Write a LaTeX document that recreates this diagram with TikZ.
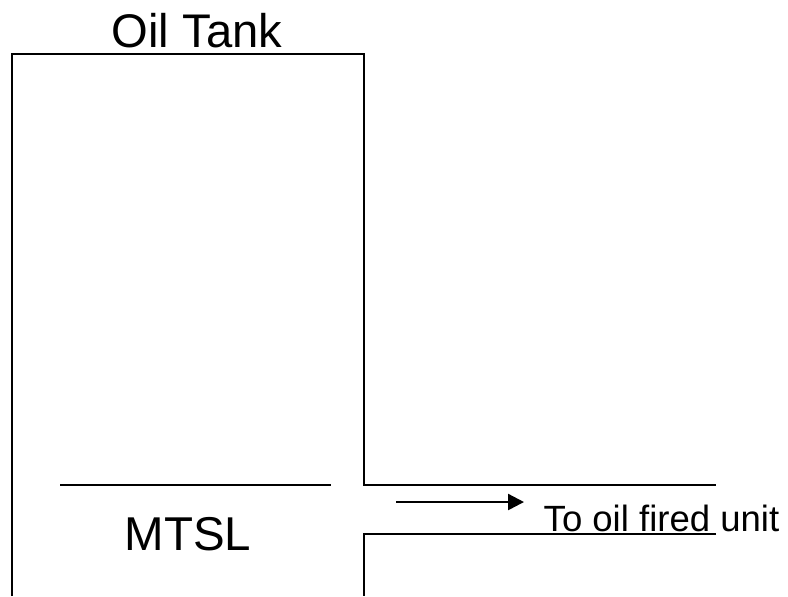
\documentclass[tikz,border=0pt]{standalone}
\usepackage{fontspec}
\setmainfont{Liberation Sans}
\usetikzlibrary{arrows.meta}
\tikzset{wall/.style={draw=black,line width=1.8pt},
lbl/.style={inner sep=0pt,text=black}}
\begin{document}
\begin{tikzpicture}[x=1pt,y=-1pt,scale=0.75]
\useasboundingbox (0,0) rectangle (788,596);
\coordinate (a) at (11.7,596);
\coordinate (b) at (11.7,54);
\coordinate (c) at (363.7,54);
\coordinate (d) at (363.7,485);
\coordinate (e) at (716,485);
\coordinate (f) at (716,534);
\coordinate (g) at (363.7,534);
\coordinate (h) at (363.7,596);
\coordinate (m1) at (60,485);
\coordinate (m2) at (331,485);
\coordinate (ar1) at (396,502);
\coordinate (ar2) at (524,502);
\draw[wall] (a) -- (b) -- (c) -- (d) -- (e);
\draw[wall] (f) -- (g) -- (h);
\draw[wall] (m1) -- (m2);
\draw[wall,-{Triangle[length=12pt,width=12pt]}] (ar1) -- (ar2);
\node[lbl,font=\fontsize{35.4}{36}\selectfont] (t) at (197,31) {Oil Tank};
\node[lbl,font=\fontsize{35.6}{36}\selectfont] (m) at (188,534) {MTSL};
\node[lbl,font=\fontsize{27.4}{28}\selectfont] (u) at (661.5,518.5) {To oil fired unit};
\end{tikzpicture}
\end{document}
